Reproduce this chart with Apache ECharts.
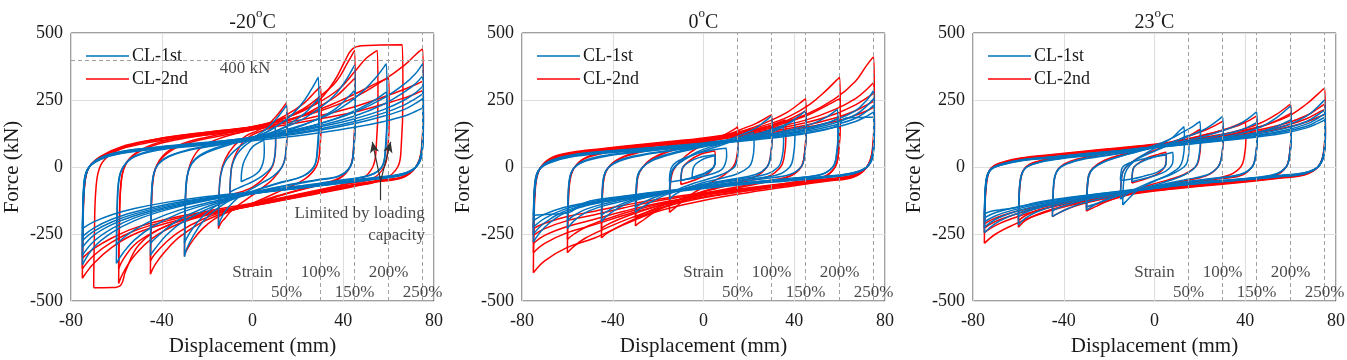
<!DOCTYPE html>
<html><head><meta charset="utf-8">
<script src="https://cdn.jsdelivr.net/npm/echarts@6/dist/echarts.min.js"></script>
<style>html,body{margin:0;padding:0;background:#fff}#c{width:1347px;height:360px}</style>
</head><body><div id="c"></div>
<script>
// ---------- chart values ----------
const panelTitles = ['-20', '0', '23'];
const xMin = -80, xMax = 80, xStep = 40;
const yMin = -500, yMax = 500, yStep = 250;
const strainDisp = [15, 30, 45, 60, 75];
const strainText = ['50%', '100%', '150%', '200%', '250%'];
const seriesNames = ['CL-1st', 'CL-2nd'];
const refForce = 400;

// loops: [displacement (mm), force (kN)] — -20 °C, CL-1st
const m20_1st = [
 [[-5,-55],[-4.8,-20],[-4,15],[-2,50],[0,75],[3,92],[5,100],[5.2,55],[4.6,15],[3,-15],[0,-35],[-3,-47],[-5,-55]],
 [[-10,-95],[-9.7,-40],[-9,5],[-7,45],[-4,75],[0,100],[4,120],[8,140],[10,150],[10.2,85],[9.5,25],[8,-5],[4,-35],[0,-55],[-4,-70],[-8,-85],[-10,-95]],
 [[-15,-220],[-14.8,-120],[-14,-30],[-12,20],[-8,60],[-3,92],[2,118],[7,148],[11,185],[14,218],[15,230],[15.2,130],[14.5,40],[13,0],[9,-35],[4,-60],[0,-80],[-5,-105],[-9,-135],[-12,-165],[-14,-195],[-15,-220]],
 [[-30,-335],[-29.7,-180],[-29,-50],[-27,10],[-23,45],[-15,75],[-5,100],[5,125],[12,160],[18,200],[23,250],[27,305],[29,335],[29.3,200],[28.5,60],[27,0],[22,-35],[12,-60],[0,-92],[-10,-125],[-17,-165],[-22,-205],[-26,-255],[-29,-305],[-30,-335]],
 [[-30,-285],[-29.7,-150],[-29,-40],[-27,10],[-23,42],[-15,70],[-5,95],[5,115],[12,140],[18,170],[23,200],[27,235],[29,255],[29.3,150],[28.5,45],[27,0],[22,-35],[12,-58],[0,-90],[-10,-120],[-17,-150],[-22,-185],[-26,-225],[-29,-265],[-30,-285]],
 [[-45,-330],[-44.7,-180],[-44,-50],[-42,5],[-37,40],[-28,65],[-15,85],[0,108],[12,140],[22,178],[30,222],[37,275],[42,335],[45,380],[45.3,220],[44.5,60],[43,0],[38,-35],[28,-50],[15,-70],[0,-98],[-12,-130],[-22,-165],[-32,-212],[-38,-255],[-43,-305],[-45,-330]],
 [[-45,-285],[-44.7,-160],[-44,-45],[-42,5],[-37,38],[-28,62],[-15,82],[0,103],[12,128],[22,155],[30,185],[37,220],[42,260],[45,285],[45.3,170],[44.5,50],[43,0],[38,-33],[28,-48],[15,-68],[0,-95],[-12,-125],[-22,-155],[-32,-195],[-38,-230],[-43,-268],[-45,-285]],
 [[-60,-360],[-59.7,-200],[-59,-60],[-57,0],[-52,40],[-42,65],[-28,82],[-12,98],[0,112],[15,140],[28,175],[38,215],[47,270],[54,330],[59,385],[59.3,220],[58.5,60],[57,0],[52,-30],[40,-50],[20,-75],[0,-100],[-18,-135],[-32,-172],[-44,-222],[-52,-272],[-57,-320],[-60,-360]],
 [[-60,-290],[-59.7,-160],[-59,-50],[-57,0],[-52,38],[-42,62],[-28,80],[-12,95],[0,108],[15,130],[28,158],[38,185],[47,218],[54,250],[59,280],[59.3,160],[58.5,50],[57,0],[52,-30],[40,-48],[20,-72],[0,-98],[-18,-130],[-32,-160],[-44,-198],[-52,-235],[-57,-265],[-60,-290]],
 [[-75,-365],[-74.7,-200],[-74,-60],[-72,0],[-67,35],[-58,58],[-45,72],[-30,85],[-15,96],[0,110],[15,132],[30,162],[45,205],[58,258],[67,310],[72,350],[75,385],[75.3,220],[74.5,60],[72,0],[66,-30],[55,-45],[40,-60],[20,-80],[0,-100],[-20,-125],[-38,-160],[-52,-200],[-62,-245],[-70,-300],[-75,-365]],
 [[-75,-330],[-74.7,-185],[-74,-55],[-72,0],[-67,33],[-58,56],[-45,71],[-30,83],[-15,94],[0,108],[15,128],[30,155],[45,190],[58,235],[67,280],[72,312],[75,340],[75.3,195],[74.5,55],[72,0],[66,-29],[55,-44],[40,-59],[20,-79],[0,-99],[-20,-122],[-38,-155],[-52,-190],[-62,-230],[-70,-278],[-75,-330]],
 [[-75,-300],[-74.7,-170],[-74,-50],[-72,0],[-67,32],[-58,55],[-45,70],[-30,82],[-15,93],[0,106],[15,125],[30,150],[45,180],[58,215],[67,250],[72,278],[75,300],[75.3,170],[74.5,50],[72,0],[66,-28],[55,-42],[40,-58],[20,-78],[0,-98],[-20,-120],[-38,-150],[-52,-182],[-62,-215],[-70,-255],[-75,-300]],
 [[-75,-275],[-74.7,-160],[-74,-48],[-72,0],[-67,31],[-58,53],[-45,68],[-30,80],[-15,91],[0,104],[15,121],[30,143],[45,170],[58,202],[67,232],[72,256],[75,272],[75.3,160],[74.5,48],[72,0],[66,-27],[55,-41],[40,-57],[20,-76],[0,-96],[-20,-117],[-38,-145],[-52,-175],[-62,-205],[-70,-240],[-75,-275]],
 [[-75,-260],[-74.7,-150],[-74,-45],[-72,0],[-67,30],[-58,52],[-45,67],[-30,78],[-15,90],[0,102],[15,118],[30,138],[45,162],[58,190],[67,215],[72,238],[75,255],[75.3,150],[74.5,45],[72,0],[66,-26],[55,-40],[40,-56],[20,-75],[0,-95],[-20,-115],[-38,-140],[-52,-168],[-62,-195],[-70,-228],[-75,-260]],
 [[-75,-230],[-74.7,-130],[-74,-40],[-72,0],[-67,28],[-58,50],[-45,64],[-30,75],[-15,86],[0,98],[15,112],[30,128],[45,148],[58,170],[67,190],[72,208],[75,220],[75.3,130],[74.5,40],[72,0],[66,-25],[55,-38],[40,-54],[20,-72],[0,-92],[-20,-110],[-38,-132],[-52,-155],[-62,-178],[-70,-205],[-75,-230]]
];
// -20 °C, CL-2nd
const m20_2nd = [
 [[-10,-110],[-9.7,-45],[-9,10],[-7,55],[-4,95],[0,120],[4,135],[8,145],[10,150],[10.2,80],[9.5,20],[8,-10],[4,-50],[0,-75],[-4,-90],[-8,-100],[-10,-110]],
 [[-15,-230],[-14.8,-120],[-14,-25],[-12,30],[-8,80],[-3,115],[2,135],[7,160],[11,195],[14,228],[15,240],[15.2,130],[14.5,40],[13,0],[9,-45],[4,-80],[0,-105],[-5,-135],[-9,-160],[-12,-190],[-14,-210],[-15,-230]],
 [[-30,-330],[-29.7,-180],[-29,-50],[-27,20],[-23,70],[-15,105],[-5,130],[5,150],[12,180],[18,210],[23,240],[27,275],[30,300],[30.3,180],[29.5,50],[28,0],[23,-45],[12,-90],[0,-135],[-10,-165],[-17,-195],[-22,-230],[-26,-270],[-29,-310],[-30,-330]],
 [[-45,-400],[-44.7,-220],[-44,-60],[-42,10],[-37,60],[-28,95],[-15,120],[0,145],[12,175],[22,215],[30,265],[37,320],[42,390],[45,435],[45.3,250],[44.5,70],[43,0],[38,-45],[28,-70],[15,-100],[0,-140],[-12,-170],[-22,-205],[-32,-260],[-38,-310],[-43,-365],[-45,-400]],
 [[-45,-350],[-44.7,-200],[-44,-55],[-42,8],[-37,55],[-28,90],[-15,115],[0,138],[12,162],[22,192],[30,228],[37,265],[42,305],[45,330],[45.3,190],[44.5,55],[43,0],[38,-42],[28,-68],[15,-98],[0,-135],[-12,-165],[-22,-195],[-32,-240],[-38,-280],[-43,-325],[-45,-350]],
 [[-59,-435],[-58.7,-240],[-58,-70],[-56,10],[-51,55],[-42,90],[-28,115],[-12,135],[0,150],[15,185],[28,235],[38,290],[45,355],[50,405],[55,435],[55.3,250],[54.5,70],[53,0],[48,-45],[38,-70],[20,-105],[0,-145],[-18,-175],[-32,-210],[-44,-265],[-52,-330],[-57,-395],[-59,-435]],
 [[-59,-380],[-58.7,-210],[-58,-60],[-56,8],[-51,52],[-42,85],[-28,110],[-12,130],[0,145],[15,175],[28,210],[38,245],[47,280],[54,310],[60,330],[60.3,190],[59.5,55],[58,0],[53,-42],[40,-66],[20,-102],[0,-140],[-18,-170],[-32,-200],[-44,-245],[-52,-290],[-57,-345],[-59,-380]],
 [[-70,-450],[-69.7,-260],[-69,-80],[-67,5],[-62,50],[-52,85],[-38,110],[-20,130],[0,150],[15,185],[28,240],[36,320],[41,400],[44,440],[48,452],[56,455],[66,456],[66.3,260],[65.5,70],[64,0],[58,-45],[45,-72],[25,-105],[0,-145],[-20,-178],[-38,-220],[-50,-290],[-56,-390],[-58,-440],[-62,-450],[-70,-451]],
 [[-75,-415],[-74.7,-230],[-74,-70],[-72,0],[-67,40],[-58,75],[-45,100],[-30,120],[-15,135],[0,150],[15,175],[30,210],[45,260],[58,325],[67,380],[72,420],[75,440],[75.3,250],[74.5,70],[72,0],[66,-40],[55,-55],[40,-78],[20,-112],[0,-145],[-20,-175],[-38,-210],[-52,-250],[-62,-300],[-70,-360],[-75,-415]],
 [[-75,-380],[-74.7,-210],[-74,-65],[-72,0],[-67,38],[-58,72],[-45,97],[-30,116],[-15,130],[0,145],[15,165],[30,192],[45,225],[58,262],[67,290],[72,308],[75,320],[75.3,190],[74.5,60],[72,0],[66,-38],[55,-52],[40,-75],[20,-108],[0,-140],[-20,-170],[-38,-202],[-52,-238],[-62,-280],[-70,-330],[-75,-380]],
 [[-75,-340],[-74.7,-190],[-74,-60],[-72,0],[-67,35],[-58,68],[-45,92],[-30,110],[-15,125],[0,140],[15,158],[30,180],[45,205],[58,235],[67,258],[72,274],[75,285],[75.3,170],[74.5,55],[72,0],[66,-36],[55,-50],[40,-72],[20,-104],[0,-135],[-20,-165],[-38,-195],[-52,-228],[-62,-265],[-70,-305],[-75,-340]]
];
// 0 °C, CL-1st
const p0_1st = [
 [[-5,-40],[-4.8,-15],[-4,5],[-2,20],[0,30],[3,38],[5,42],[5.2,20],[4.5,0],[2,-15],[0,-25],[-3,-33],[-5,-40]],
 [[-10,-50],[-9.8,-25],[-9,0],[-6,20],[-2,35],[2,42],[5,45],[5.2,25],[4.5,0],[2,-20],[-2,-32],[-6,-42],[-10,-50]],
 [[-15,-55],[-14.8,-25],[-14,0],[-12,18],[-8,35],[-3,50],[2,60],[6,66],[10,70],[10.2,40],[9.5,10],[8,-10],[4,-25],[-2,-38],[-8,-47],[-12,-52],[-15,-55]],
 [[-15,-100],[-14.8,-55],[-14,-15],[-12,8],[-8,30],[-3,50],[3,68],[8,82],[12,95],[15,105],[15.2,60],[14.5,15],[13,-5],[8,-28],[2,-45],[-4,-60],[-9,-75],[-12,-88],[-15,-100]],
 [[-15,-120],[-14.8,-70],[-14,-20],[-12,5],[-8,30],[-3,55],[3,75],[10,92],[16,110],[20,122],[22,130],[22.3,80],[21.5,25],[20,0],[15,-25],[8,-42],[0,-58],[-6,-75],[-10,-90],[-13,-105],[-15,-120]],
 [[-30,-170],[-29.7,-100],[-29,-35],[-27,-3],[-23,25],[-15,50],[-5,70],[5,88],[12,105],[18,125],[23,145],[27,170],[30,190],[30.3,115],[29.5,35],[28,0],[23,-28],[13,-45],[0,-65],[-10,-85],[-17,-105],[-22,-125],[-26,-145],[-29,-162],[-30,-170]],
 [[-30,-150],[-29.7,-90],[-29,-30],[-27,-3],[-23,22],[-15,46],[-5,66],[5,84],[12,98],[20,113],[27,128],[32,142],[35,150],[35.3,90],[34.5,30],[33,0],[28,-26],[18,-42],[5,-58],[-5,-72],[-12,-88],[-20,-108],[-26,-130],[-29,-145],[-30,-150]],
 [[-45,-205],[-44.7,-120],[-44,-40],[-42,-3],[-37,25],[-28,45],[-15,62],[0,80],[12,100],[22,120],[30,140],[37,162],[42,190],[45,210],[45.3,130],[44.5,40],[43,0],[38,-28],[28,-42],[15,-55],[0,-72],[-12,-90],[-22,-108],[-32,-130],[-38,-155],[-43,-185],[-45,-205]],
 [[-45,-180],[-44.7,-105],[-44,-35],[-42,-3],[-37,22],[-28,42],[-15,60],[0,78],[12,95],[22,112],[30,130],[35,150],[38,165],[40,175],[40.3,110],[39.5,35],[38,0],[33,-28],[23,-42],[10,-55],[0,-70],[-12,-88],[-22,-105],[-32,-125],[-38,-145],[-43,-168],[-45,-180]],
 [[-60,-230],[-59.7,-130],[-59,-45],[-57,-3],[-52,25],[-42,45],[-28,58],[-12,72],[0,85],[15,102],[28,120],[38,138],[47,158],[54,185],[59,215],[59.3,130],[58.5,40],[57,0],[52,-28],[40,-42],[20,-58],[0,-76],[-18,-98],[-32,-120],[-44,-145],[-52,-170],[-57,-200],[-60,-230]],
 [[-60,-200],[-59.7,-115],[-59,-40],[-57,-3],[-52,22],[-42,42],[-28,56],[-12,70],[0,82],[15,98],[28,114],[38,128],[47,145],[54,162],[59,180],[59.3,110],[58.5,35],[57,0],[52,-27],[40,-41],[20,-57],[0,-75],[-18,-96],[-32,-116],[-44,-138],[-52,-158],[-57,-180],[-60,-200]],
 [[-75,-280],[-74.7,-160],[-74,-60],[-72,-5],[-67,25],[-58,45],[-45,58],[-30,68],[-15,78],[0,90],[15,105],[30,122],[45,145],[58,175],[67,210],[72,250],[75,285],[75.3,170],[74.5,50],[72,0],[66,-25],[55,-38],[40,-50],[20,-63],[0,-80],[-20,-100],[-38,-122],[-52,-145],[-62,-175],[-70,-225],[-75,-280]],
 [[-75,-250],[-74.7,-145],[-74,-55],[-72,-5],[-67,23],[-58,43],[-45,56],[-30,66],[-15,76],[0,88],[15,102],[30,118],[45,138],[58,165],[67,195],[72,228],[75,255],[75.3,150],[74.5,45],[72,0],[66,-24],[55,-37],[40,-48],[20,-62],[0,-78],[-20,-98],[-38,-120],[-52,-142],[-62,-168],[-70,-208],[-75,-250]],
 [[-75,-225],[-74.7,-130],[-74,-50],[-72,-5],[-67,22],[-58,42],[-45,54],[-30,64],[-15,74],[0,86],[15,100],[30,115],[45,133],[58,157],[67,182],[72,208],[75,230],[75.3,140],[74.5,42],[72,0],[66,-23],[55,-36],[40,-47],[20,-61],[0,-77],[-20,-96],[-38,-117],[-52,-138],[-62,-160],[-70,-192],[-75,-225]],
 [[-75,-200],[-74.7,-120],[-74,-45],[-72,-5],[-67,20],[-58,40],[-45,52],[-30,62],[-15,72],[0,84],[15,97],[30,112],[45,128],[58,148],[67,170],[72,190],[75,205],[75.3,125],[74.5,40],[72,0],[66,-22],[55,-35],[40,-46],[20,-60],[0,-76],[-20,-94],[-38,-114],[-52,-134],[-62,-152],[-70,-176],[-75,-200]],
 [[-75,-180],[-74.7,-110],[-74,-40],[-72,-5],[-67,18],[-58,38],[-45,50],[-30,60],[-15,70],[0,82],[15,95],[30,108],[45,125],[58,150],[63,183],[70,185],[75,186],[75.3,115],[74.5,35],[72,0],[66,-21],[55,-34],[40,-45],[20,-58],[0,-74],[-20,-92],[-38,-112],[-52,-132],[-60,-172],[-67,-176],[-75,-180]]
];
// 0 °C, CL-2nd
const p0_2nd = [
 [[-10,-65],[-9.8,-30],[-9,0],[-6,25],[-2,45],[2,55],[5,60],[5.2,30],[4.5,0],[2,-25],[-2,-42],[-6,-55],[-10,-65]],
 [[-15,-170],[-14.8,-95],[-14,-30],[-12,5],[-8,40],[-3,70],[2,90],[7,110],[11,128],[14,143],[15,150],[15.2,90],[14.5,30],[13,0],[9,-30],[4,-55],[0,-75],[-5,-100],[-9,-125],[-12,-148],[-14,-162],[-15,-170]],
 [[-30,-220],[-29.7,-125],[-29,-40],[-27,-3],[-23,30],[-15,62],[-5,85],[5,105],[12,125],[18,145],[23,162],[27,180],[30,195],[30.3,120],[29.5,40],[28,0],[23,-35],[13,-60],[0,-90],[-10,-120],[-17,-148],[-22,-170],[-26,-195],[-29,-212],[-30,-220]],
 [[-30,-190],[-29.7,-110],[-29,-35],[-27,-3],[-23,28],[-15,58],[-5,82],[5,100],[12,115],[20,132],[27,148],[32,163],[36,175],[36.3,105],[35.5,35],[34,0],[29,-33],[18,-55],[5,-82],[-5,-105],[-12,-125],[-20,-150],[-26,-172],[-29,-185],[-30,-190]],
 [[-45,-265],[-44.7,-150],[-44,-50],[-42,-3],[-37,32],[-28,58],[-15,80],[0,100],[12,122],[22,148],[30,175],[37,205],[42,235],[45,255],[45.3,155],[44.5,50],[43,0],[38,-35],[28,-55],[15,-78],[0,-105],[-12,-135],[-22,-165],[-32,-200],[-38,-225],[-43,-250],[-45,-265]],
 [[-45,-230],[-44.7,-135],[-44,-45],[-42,-3],[-37,30],[-28,55],[-15,77],[0,96],[12,115],[22,135],[30,155],[37,175],[42,195],[45,210],[45.3,130],[44.5,45],[43,0],[38,-33],[28,-52],[15,-74],[0,-100],[-12,-125],[-22,-150],[-32,-178],[-38,-198],[-43,-218],[-45,-230]],
 [[-60,-320],[-59.7,-180],[-59,-60],[-57,-3],[-52,35],[-42,58],[-28,75],[-12,92],[0,105],[15,128],[28,158],[38,190],[47,235],[54,285],[60,335],[60.3,200],[59.5,60],[58,0],[53,-38],[40,-60],[20,-88],[0,-115],[-18,-150],[-32,-190],[-44,-232],[-52,-265],[-57,-295],[-60,-320]],
 [[-60,-270],[-59.7,-155],[-59,-50],[-57,-3],[-52,32],[-42,55],[-28,72],[-12,88],[0,100],[15,120],[28,145],[38,170],[47,198],[54,228],[60,255],[60.3,155],[59.5,50],[58,0],[53,-36],[40,-56],[20,-82],[0,-105],[-18,-135],[-32,-165],[-44,-198],[-52,-225],[-57,-250],[-60,-270]],
 [[-75,-395],[-74.7,-220],[-74,-70],[-72,-5],[-67,35],[-58,55],[-45,68],[-30,82],[-15,95],[0,108],[15,128],[30,155],[45,195],[58,255],[67,320],[72,380],[75,410],[75.3,240],[74.5,70],[72,0],[66,-38],[55,-52],[40,-70],[20,-95],[0,-125],[-20,-165],[-35,-215],[-48,-265],[-60,-300],[-70,-350],[-75,-395]],
 [[-75,-320],[-74.7,-180],[-74,-60],[-72,-5],[-67,32],[-58,52],[-45,66],[-30,80],[-15,92],[0,105],[15,123],[30,145],[45,175],[58,215],[67,255],[72,290],[75,315],[75.3,190],[74.5,60],[72,0],[66,-36],[55,-50],[40,-66],[20,-88],[0,-112],[-20,-145],[-35,-180],[-48,-215],[-60,-245],[-70,-285],[-75,-320]],
 [[-75,-285],[-74.7,-165],[-74,-55],[-72,-5],[-67,30],[-58,50],[-45,64],[-30,77],[-15,90],[0,103],[15,120],[30,140],[45,165],[58,198],[67,232],[72,258],[75,275],[75.3,165],[74.5,55],[72,0],[66,-34],[55,-48],[40,-63],[20,-84],[0,-106],[-20,-135],[-35,-165],[-48,-195],[-60,-222],[-70,-255],[-75,-285]],
 [[-75,-255],[-74.7,-150],[-74,-50],[-72,-5],[-67,28],[-58,48],[-45,62],[-30,75],[-15,88],[0,100],[15,116],[30,134],[45,156],[58,183],[67,210],[72,232],[75,245],[75.3,150],[74.5,50],[72,0],[66,-32],[55,-46],[40,-60],[20,-80],[0,-100],[-20,-126],[-35,-152],[-48,-178],[-60,-200],[-70,-230],[-75,-255]],
 [[-75,-230],[-74.7,-135],[-74,-45],[-72,-5],[-67,26],[-58,46],[-45,60],[-30,72],[-15,85],[0,97],[15,112],[30,128],[45,148],[58,170],[67,193],[72,210],[75,222],[75.3,135],[74.5,45],[72,0],[66,-30],[55,-44],[40,-58],[20,-77],[0,-96],[-20,-120],[-35,-143],[-48,-165],[-60,-185],[-70,-210],[-75,-230]]
];
// 23 °C, CL-1st
const p23_1st = [
 [[-10,-55],[-9.8,-25],[-9,0],[-6,18],[-2,32],[2,42],[6,50],[8,55],[8.2,30],[7.5,5],[5,-15],[1,-30],[-4,-42],[-8,-50],[-10,-55]],
 [[-15,-50],[-14.8,-25],[-14,0],[-11,15],[-6,28],[0,38],[5,45],[5.2,25],[4.5,0],[1,-20],[-5,-35],[-10,-45],[-15,-50]],
 [[-15,-120],[-14.8,-70],[-14,-20],[-12,5],[-8,28],[-3,48],[3,70],[8,90],[12,108],[15,118],[15.2,70],[14.5,20],[13,0],[8,-25],[2,-45],[-4,-65],[-9,-85],[-12,-100],[-15,-120]],
 [[-14,-142],[-13.8,-80],[-13,-25],[-11,5],[-7,35],[-2,60],[3,85],[8,110],[11,135],[13,150],[13.2,90],[12.5,30],[11,0],[7,-25],[2,-45],[-3,-65],[-8,-90],[-11,-115],[-13,-132],[-14,-142]],
 [[-30,-160],[-29.7,-95],[-29,-35],[-27,-5],[-22,20],[-15,40],[-7,60],[0,80],[7,105],[12,128],[17,152],[20,170],[20.3,105],[19.5,35],[18,0],[13,-30],[5,-55],[-3,-75],[-12,-95],[-20,-118],[-25,-135],[-28,-150],[-30,-160]],
 [[-30,-150],[-29.7,-90],[-29,-30],[-27,-5],[-22,20],[-15,40],[-5,62],[5,85],[12,105],[18,125],[23,145],[27,168],[30,188],[30.3,115],[29.5,35],[28,0],[23,-30],[13,-48],[0,-72],[-10,-92],[-17,-110],[-22,-125],[-26,-138],[-29,-146],[-30,-150]],
 [[-45,-185],[-44.7,-110],[-44,-40],[-42,-5],[-37,18],[-28,36],[-15,52],[0,75],[12,95],[22,115],[30,135],[37,158],[42,185],[45,206],[45.3,125],[44.5,40],[43,0],[38,-28],[28,-42],[15,-55],[0,-75],[-12,-95],[-22,-115],[-32,-135],[-38,-155],[-43,-175],[-45,-185]],
 [[-45,-165],[-44.7,-100],[-44,-35],[-42,-5],[-37,16],[-28,34],[-15,50],[0,72],[12,90],[22,106],[30,120],[37,135],[42,152],[45,165],[45.3,100],[44.5,35],[43,0],[38,-27],[28,-40],[15,-53],[0,-72],[-12,-90],[-22,-108],[-32,-125],[-38,-140],[-43,-155],[-45,-165]],
 [[-60,-216],[-59.7,-125],[-59,-45],[-57,-5],[-52,15],[-42,32],[-28,45],[-12,62],[0,75],[15,92],[28,108],[38,125],[47,150],[54,185],[60,228],[60.3,135],[59.5,45],[58,0],[53,-28],[40,-45],[20,-58],[0,-78],[-18,-100],[-32,-122],[-44,-145],[-52,-168],[-57,-192],[-60,-216]],
 [[-60,-185],[-59.7,-110],[-59,-40],[-57,-5],[-52,14],[-42,30],[-28,43],[-12,60],[0,73],[15,88],[28,102],[38,115],[47,132],[54,152],[60,175],[60.3,105],[59.5,35],[58,0],[53,-27],[40,-43],[20,-56],[0,-76],[-18,-97],[-32,-117],[-44,-138],[-52,-155],[-57,-170],[-60,-185]],
 [[-75,-245],[-74.7,-140],[-74,-50],[-72,-8],[-67,12],[-58,28],[-45,38],[-30,50],[-15,62],[0,76],[15,92],[30,108],[45,128],[58,155],[67,190],[72,225],[75,250],[75.3,150],[74.5,50],[72,0],[66,-25],[55,-36],[40,-48],[20,-62],[0,-80],[-20,-102],[-38,-125],[-52,-150],[-62,-178],[-70,-210],[-75,-245]],
 [[-75,-225],[-74.7,-130],[-74,-45],[-72,-8],[-67,11],[-58,27],[-45,37],[-30,49],[-15,61],[0,75],[15,90],[30,105],[45,122],[58,145],[67,170],[72,195],[75,212],[75.3,130],[74.5,45],[72,0],[66,-24],[55,-35],[40,-47],[20,-61],[0,-79],[-20,-100],[-38,-122],[-52,-145],[-62,-168],[-70,-195],[-75,-225]],
 [[-75,-205],[-74.7,-120],[-74,-42],[-72,-8],[-67,10],[-58,26],[-45,36],[-30,48],[-15,60],[0,74],[15,88],[30,102],[45,118],[58,138],[67,160],[72,182],[75,198],[75.3,120],[74.5,42],[72,0],[66,-23],[55,-34],[40,-46],[20,-60],[0,-78],[-20,-98],[-38,-119],[-52,-140],[-62,-160],[-70,-182],[-75,-205]],
 [[-75,-190],[-74.7,-110],[-74,-40],[-72,-8],[-67,9],[-58,25],[-45,35],[-30,47],[-15,59],[0,73],[15,86],[30,100],[45,115],[58,133],[67,152],[72,172],[75,185],[75.3,112],[74.5,40],[72,0],[66,-22],[55,-33],[40,-45],[20,-59],[0,-77],[-20,-96],[-38,-116],[-52,-135],[-62,-152],[-70,-170],[-75,-190]],
 [[-75,-175],[-74.7,-100],[-74,-38],[-72,-8],[-67,8],[-58,24],[-45,34],[-30,46],[-15,58],[0,72],[15,85],[30,98],[45,112],[58,128],[67,146],[72,163],[75,175],[75.3,105],[74.5,38],[72,0],[66,-21],[55,-32],[40,-44],[20,-58],[0,-76],[-20,-95],[-38,-114],[-52,-132],[-60,-150],[-66,-158],[-72,-165],[-75,-175]]
];
// 23 °C, CL-2nd
const p23_2nd = [
 [[-10,-60],[-9.8,-30],[-9,0],[-6,20],[-2,38],[2,48],[5,55],[5.2,30],[4.5,0],[2,-22],[-2,-38],[-6,-50],[-10,-60]],
 [[-15,-110],[-14.8,-65],[-14,-20],[-12,5],[-8,30],[-3,52],[3,72],[9,92],[14,112],[18,130],[20,140],[20.3,85],[19.5,25],[18,0],[13,-28],[6,-48],[0,-62],[-6,-78],[-10,-92],[-13,-103],[-15,-110]],
 [[-30,-165],[-29.7,-95],[-29,-35],[-27,-3],[-22,25],[-15,45],[-5,67],[5,88],[12,106],[18,124],[23,140],[27,156],[30,170],[30.3,105],[29.5,35],[28,0],[23,-32],[13,-52],[0,-76],[-10,-97],[-17,-116],[-22,-132],[-26,-148],[-29,-160],[-30,-165]],
 [[-30,-150],[-29.7,-88],[-29,-30],[-27,-3],[-22,23],[-15,43],[-5,64],[5,84],[12,98],[20,115],[27,130],[33,146],[37,160],[40,170],[40.3,105],[39.5,35],[38,0],[33,-30],[23,-48],[10,-66],[0,-80],[-10,-100],[-17,-117],[-22,-130],[-26,-140],[-29,-147],[-30,-150]],
 [[-45,-185],[-44.7,-110],[-44,-40],[-42,-3],[-37,22],[-28,40],[-15,58],[0,80],[12,100],[22,120],[30,138],[37,155],[42,175],[45,190],[45.3,115],[44.5,40],[43,0],[38,-32],[28,-45],[15,-58],[0,-78],[-12,-98],[-22,-118],[-32,-138],[-38,-155],[-43,-175],[-45,-185]],
 [[-60,-225],[-59.7,-130],[-59,-48],[-57,-3],[-52,20],[-42,38],[-28,52],[-12,68],[0,82],[15,100],[28,118],[38,138],[47,165],[54,198],[60,235],[60.3,140],[59.5,48],[58,0],[53,-32],[40,-48],[20,-64],[0,-84],[-18,-108],[-32,-130],[-44,-155],[-52,-178],[-57,-200],[-60,-225]],
 [[-60,-200],[-59.7,-115],[-59,-42],[-57,-3],[-52,18],[-42,36],[-28,50],[-12,66],[0,80],[15,97],[28,113],[38,130],[47,150],[54,174],[60,200],[60.3,120],[59.5,42],[58,0],[53,-31],[40,-47],[20,-62],[0,-82],[-18,-104],[-32,-124],[-44,-145],[-52,-163],[-57,-182],[-60,-200]],
 [[-75,-285],[-74.7,-160],[-74,-60],[-72,-5],[-67,18],[-58,35],[-45,47],[-30,60],[-15,72],[0,85],[15,102],[30,122],[45,148],[58,185],[67,235],[72,272],[75,295],[75.3,175],[74.5,55],[72,0],[66,-30],[55,-42],[40,-56],[20,-72],[0,-90],[-20,-115],[-38,-145],[-52,-180],[-62,-215],[-70,-250],[-75,-285]],
 [[-75,-245],[-74.7,-140],[-74,-52],[-72,-5],[-67,16],[-58,33],[-45,45],[-30,58],[-15,70],[0,83],[15,99],[30,116],[45,137],[58,163],[67,192],[72,218],[75,235],[75.3,140],[74.5,50],[72,0],[66,-28],[55,-40],[40,-54],[20,-70],[0,-88],[-20,-110],[-38,-136],[-52,-163],[-62,-190],[-70,-218],[-75,-245]],
 [[-75,-228],[-74.7,-130],[-74,-48],[-72,-5],[-67,15],[-58,32],[-45,44],[-30,57],[-15,69],[0,82],[15,97],[30,113],[45,132],[58,155],[67,180],[72,202],[75,215],[75.3,130],[74.5,46],[72,0],[66,-27],[55,-39],[40,-53],[20,-69],[0,-86],[-20,-107],[-38,-131],[-52,-155],[-62,-178],[-70,-203],[-75,-228]],
 [[-75,-212],[-74.7,-120],[-74,-45],[-72,-5],[-67,14],[-58,31],[-45,43],[-30,56],[-15,68],[0,81],[15,95],[30,110],[45,127],[58,147],[67,168],[72,186],[75,195],[75.3,118],[74.5,42],[72,0],[66,-26],[55,-38],[40,-52],[20,-68],[0,-85],[-20,-105],[-38,-127],[-52,-148],[-62,-168],[-70,-190],[-75,-212]]
];

// ---------- layout / style ----------
const FONT = '"Liberation Serif", "Times New Roman", serif';
const TXT = '#1a1a1a';
const BLUE = '#0072BD', RED = '#FF0000';
const gridLeft = [71, 522, 973], gridTop = 33, gridW = 363, gridH = 268;
const panelLoops = [[m20_1st, m20_2nd], [p0_1st, p0_2nd], [p23_1st, p23_2nd]];

const grids = [], xAxes = [], yAxes = [], legends = [], series = [], graphics = [];
for (let i = 0; i < 3; i++) {
  grids.push({left: gridLeft[i], top: gridTop, width: gridW, height: gridH, show: true,
    borderColor: '#404040', borderWidth: 1, backgroundColor: 'transparent', containLabel: false, outerBoundsMode: 'none'});
  xAxes.push({type: 'value', gridIndex: i, min: xMin, max: xMax, interval: xStep,
    name: 'Displacement (mm)', nameLocation: 'middle', nameGap: 35, nameMoveOverlap: false,
    nameTextStyle: {fontFamily: FONT, fontSize: 21, color: TXT},
    axisLine: {show: false}, axisTick: {show: false},
    axisLabel: {fontFamily: FONT, fontSize: 18, color: TXT, margin: 11},
    splitLine: {show: true, lineStyle: {color: '#dedede', width: 1}}});
  yAxes.push({type: 'value', gridIndex: i, min: yMin, max: yMax, interval: yStep,
    name: 'Force (kN)', nameLocation: 'middle', nameGap: 48, nameMoveOverlap: false,
    nameTextStyle: {fontFamily: FONT, fontSize: 21, color: TXT},
    axisLine: {show: false}, axisTick: {show: false},
    axisLabel: {fontFamily: FONT, fontSize: 18, color: TXT, margin: 8},
    splitLine: {show: true, lineStyle: {color: '#dedede', width: 1}}});
  legends.push({data: seriesNames, orient: 'vertical', left: gridLeft[i] + 10, top: 42,
    icon: 'rect', itemWidth: 43, itemHeight: 1.6, itemGap: 5, selectedMode: false,
    textStyle: {fontFamily: FONT, fontSize: 18, color: TXT, padding: [0, 0, 0, -2]}});

  // red (2nd) first, blue (1st) on top
  [[1, RED], [0, BLUE]].forEach(([k, col]) => {
    panelLoops[i][k].forEach(loop => {
      series.push({type: 'line', name: seriesNames[k], xAxisIndex: i, yAxisIndex: i,
        data: loop, symbol: 'none', showSymbol: false, smooth: 0.4, silent: true,
        color: col, itemStyle: {color: col}, lineStyle: {color: col, width: 1.5}, animation: false});
    });
  });

  // annotations: strain labels + dashed strain lines
  const labelData = [{name: 'Strain', value: [0, -395]}];
  strainDisp.forEach((d, j) => labelData.push({name: strainText[j], value: [d, j % 2 === 0 ? -470 : -395]}));
  const mlData = strainDisp.map(d => ({xAxis: d}));
  if (i === 0) {
    labelData.push({name: refForce + ' kN', value: [-3.3, 369]});
    labelData.push({name: 'Limited by loading', value: [47.2, -172]});
    labelData.push({name: 'capacity', value: [63.5, -257]});
    mlData.push({yAxis: refForce});
    const arrowStyle = {type: 'solid', color: '#333', width: 1.2};
    mlData.push([{coord: [56.5, -124], lineStyle: arrowStyle}, {coord: [56.5, -52]}]);
    mlData.push([{coord: [56.5, -52], lineStyle: arrowStyle}, {coord: [52.8, 94], symbol: 'arrow', symbolSize: [7, 11]}]);
    mlData.push([{coord: [56.5, -52], lineStyle: arrowStyle}, {coord: [60.9, 94], symbol: 'arrow', symbolSize: [7, 11]}]);
  }
  series.push({type: 'scatter', name: 'annot' + i, xAxisIndex: i, yAxisIndex: i, silent: true,
    symbolSize: 1, itemStyle: {color: 'rgba(0,0,0,0)'}, data: labelData, animation: false, z: 5,
    label: {show: true, position: 'inside', formatter: '{b}', fontFamily: FONT, fontSize: 17, color: TXT},
    markLine: {silent: true, symbol: ['none', 'none'], animation: false, label: {show: false},
      lineStyle: {type: [4, 3], color: '#a0a0a0', width: 1}, data: mlData}});

  graphics.push({type: 'text', x: gridLeft[i] + gridW / 2, y: 20,
    style: {text: '{a|' + panelTitles[i] + '}{s|o}{a|C}', align: 'center', verticalAlign: 'middle',
      rich: {a: {fontFamily: FONT, fontSize: 20, fill: TXT, lineHeight: 26, verticalAlign: 'bottom'},
             s: {fontFamily: FONT, fontSize: 13, fill: TXT, lineHeight: 12, verticalAlign: 'top'}}}});
}

const chart = echarts.init(document.getElementById('c'), null, {renderer: 'canvas'});
chart.setOption({animation: false, backgroundColor: '#fff',
  grid: grids, xAxis: xAxes, yAxis: yAxes, legend: legends, series: series, graphic: graphics});
</script></body></html>
